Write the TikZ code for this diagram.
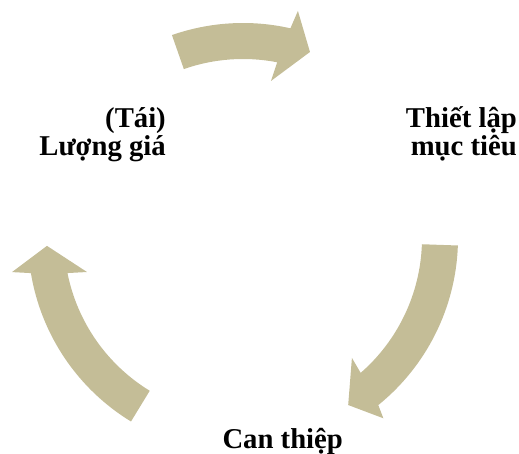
\documentclass[tikz,border=0pt]{standalone}
\usepackage{fontspec}
\setmainfont{Liberation Serif}
\definecolor{tanarrow}{HTML}{C4BD97}
\begin{document}
\begin{tikzpicture}[x=1pt,y=1pt,
  cyclearrow/.style={fill=tanarrow, draw=none},
  cyclelabel/.style={font=\bfseries\fontsize{28.7}{28.2}\selectfont, align=right, inner sep=0pt}]
\useasboundingbox (0,0) rectangle (519,454);

% three curved arrows on a common circle (shaft radii 179..215)
\begin{scope}[shift={(243,216)}]
  % top: from the evaluation step to goal setting
  \fill[cyclearrow] (109.3:215pt) arc[start angle=109.3, end angle=77.26, radius=215pt]
    -- (76.4:233.6pt) -- (70.2:197.7pt) -- (79.9:159.5pt) -- (79.0:179pt)
    arc[start angle=79.0, end angle=109.3, radius=179pt] -- cycle;
  % right: from goal setting down to the intervention
  \fill[cyclearrow] (-2:215pt) arc[start angle=-2, end angle=-51, radius=215pt]
    -- (-52.1:228.5pt) -- (-57.8:197.4pt) -- (-47.75:162pt) -- (-48.9:179pt)
    arc[start angle=-48.9, end angle=-2, radius=179pt] -- cycle;
  % left: from the intervention back up to evaluation
  \fill[cyclearrow] (238.6:215pt) arc[start angle=238.6, end angle=189.4, radius=215pt]
    -- (188.4:233.5pt) -- (182.3:196.2pt) -- (192.3:159.7pt) -- (191.3:179pt)
    arc[start angle=191.3, end angle=238.6, radius=179pt] -- cycle;
\end{scope}

% step labels (base anchor sits on the last line)
\node[cyclelabel, anchor=base east] (goal) at (517,298.5) {Thiết lập\\mục tiêu};
\node[cyclelabel, anchor=base] (act) at (282.7,5) {Can thiệp};
\node[cyclelabel, anchor=base east] (eval) at (166,298.5) {(Tái)\\Lượng giá};
\end{tikzpicture}
\end{document}
